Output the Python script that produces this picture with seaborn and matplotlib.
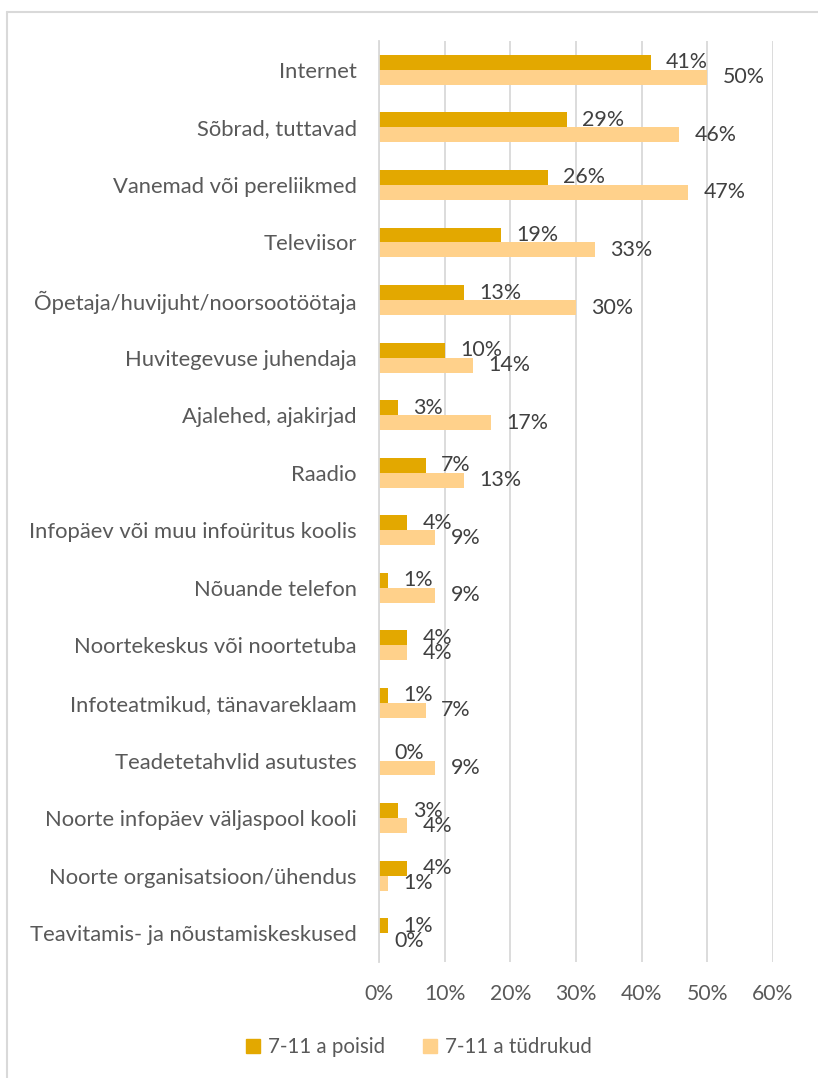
import seaborn as sns
import pandas as pd
import matplotlib.pyplot as plt
from matplotlib.lines import Line2D

categories = [
    "Internet",
    "Sõbrad, tuttavad",
    "Vanemad või pereliikmed",
    "Televiisor",
    "Õpetaja/huvijuht/noorsootöötaja",
    "Huvitegevuse juhendaja",
    "Ajalehed, ajakirjad",
    "Raadio",
    "Infopäev või muu infoüritus koolis",
    "Nõuande telefon",
    "Noortekeskus või noortetuba",
    "Infoteatmikud, tänavareklaam",
    "Teadetetahvlid asutustes",
    "Noorte infopäev väljaspool kooli",
    "Noorte organisatsioon/ühendus",
    "Teavitamis- ja nõustamiskeskused",
]
poisid = [41.4, 28.6, 25.7, 18.6, 12.9, 10.0, 2.9, 7.1, 4.3, 1.4, 4.3, 1.4, 0.0, 2.9, 4.3, 1.4]
tudrukud = [50.0, 45.7, 47.1, 32.9, 30.0, 14.3, 17.1, 12.9, 8.6, 8.6, 4.3, 7.1, 8.6, 4.3, 1.4, 0.0]
series = ["7-11 a poisid", "7-11 a tüdrukud"]
colors = ["#E3A800", "#FFD18B"]
xticks = [0, 10, 20, 30, 40, 50, 60]

df = pd.DataFrame({
    "kategooria": categories * 2,
    "osakaal": poisid + tudrukud,
    "grupp": [series[0]] * len(categories) + [series[1]] * len(categories),
})

sns.set_style("white")
plt.rcParams["font.family"] = ["Lato", "DejaVu Sans"]

W, H = 818, 1078
fig = plt.figure(figsize=(W / 100, H / 100), dpi=100)
ax = fig.add_axes([379 / W, 1 - 962 / H, (773 - 379) / W, (962 - 41) / H])

sns.barplot(data=df, x="osakaal", y="kategooria", hue="grupp", orient="h",
            palette=colors, width=0.52, saturation=1, errorbar=None,
            linewidth=0, ax=ax)

ax.set_xlim(0, 60)
ax.set_xticks(xticks)
ax.set_xticklabels([f"{t}%" for t in xticks])
ax.set_xlabel("")
ax.set_ylabel("")
ax.xaxis.grid(True, color="#d9d9d9", linewidth=1.3)
ax.set_axisbelow(True)
for s in ["top", "right", "bottom"]:
    ax.spines[s].set_visible(False)
ax.spines["left"].set_color("#d9d9d9")
ax.spines["left"].set_linewidth(1.3)
ax.tick_params(axis="x", length=0, pad=16, labelsize=15.2, labelcolor="#595959")
ax.tick_params(axis="y", length=0, pad=16, labelsize=15.8, labelcolor="#595959")

for cont in ax.containers:
    ax.bar_label(cont, labels=[f"{b.get_width():.0f}%" for b in cont],
                 padding=11, fontsize=15.4, color="#404040")

ax.legend_.remove()
handles = [plt.Rectangle((0, 0), 1, 1, color=c) for c in colors]
fig.legend(handles, series, loc="center", bbox_to_anchor=(419 / W, 1 - 1047 / H),
           ncol=2, frameon=False, fontsize=14.8, handlelength=0.7, handleheight=0.7,
           handletextpad=0.4, columnspacing=1.8, labelcolor="#595959")

# chart area border (top and left edge visible)
fig.add_artist(Line2D([7 / W, 7 / W], [0, 1 - 12 / H], color="#d9d9d9", lw=1.5))
fig.add_artist(Line2D([7 / W, 1], [1 - 12 / H, 1 - 12 / H], color="#d9d9d9", lw=1.5))

fig.savefig("out.png", dpi=100)
